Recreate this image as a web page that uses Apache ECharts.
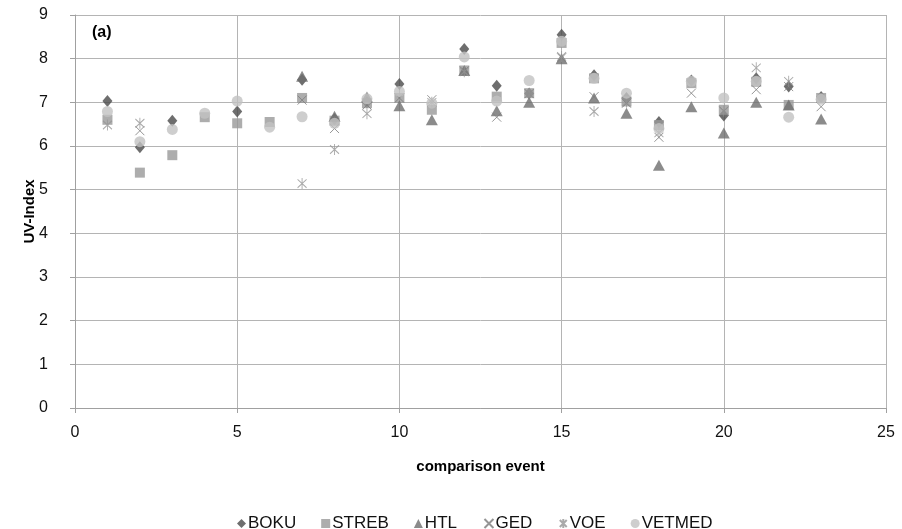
<!DOCTYPE html>
<html>
<head>
<meta charset="utf-8">
<script src="https://cdn.jsdelivr.net/npm/echarts@6/dist/echarts.min.js"></script>
<style>html,body{margin:0;padding:0;background:#fff}#c{width:902px;height:529px}</style>
</head>
<body>
<div id="c"></div>
<script>
const events = [1,2,3,4,5,6,7,8,9,10,11,12,13,14,15,16,17,18,19,20,21,22,23];
const BOKU   = [7.03,5.97,6.58,null,6.79,null,7.52,6.62,7.00,7.42,null,8.22,7.38,7.20,8.55,7.62,7.10,6.55,7.50,6.70,7.55,7.36,7.12];
const STREB  = [6.60,5.39,5.79,6.66,6.52,6.55,7.10,6.58,6.98,7.10,6.83,7.73,7.13,7.21,8.36,7.55,7.02,6.48,7.44,6.83,7.47,6.94,7.10];
const HTL    = [null,null,null,null,null,null,7.60,6.68,7.12,6.92,6.60,7.73,6.81,7.00,8.00,7.10,6.75,5.56,6.90,6.30,7.00,6.94,6.62];
const GED    = [null,6.35,null,null,null,null,7.05,6.40,6.94,7.10,7.06,7.72,6.66,7.20,8.02,7.13,6.98,6.20,7.21,6.80,7.29,7.36,6.90];
const VOE    = [6.48,6.52,null,null,null,null,5.14,5.92,6.74,null,7.00,7.70,null,7.20,8.05,6.79,7.00,6.30,null,6.80,7.79,7.48,null];
const VETMED = [6.79,6.10,6.38,6.75,7.03,6.43,6.67,6.52,7.08,7.25,6.98,8.04,7.03,7.50,8.40,7.55,7.21,6.40,7.48,7.10,7.48,6.66,7.07];
const xTicks = [0,5,10,15,20,25];
const yTicks = [0,1,2,3,4,5,6,7,8,9];

function pts(arr){ return events.map((x,i)=> arr[i]==null ? null : [x, arr[i]]).filter(p=>p); }

const crossPath = 'path://M0,0L10,10M10,0L0,10';
const starPath = 'path://M0,0L10,10M10,0L0,10M5,-1.5L5,11.5';
const font = '"Liberation Sans", Arial, sans-serif';

const series = [
  {name:'BOKU', data:pts(BOKU), symbol:'diamond', symbolSize:[10,12], itemStyle:{color:'#4a4a4a'}},
  {name:'STREB', data:pts(STREB), symbol:'rect', symbolSize:10, itemStyle:{color:'#989898'}},
  {name:'HTL', data:pts(HTL), symbol:'triangle', symbolSize:[12,11], itemStyle:{color:'#6e6e6e'}},
  {name:'GED', data:pts(GED), symbol:crossPath, symbolSize:9, itemStyle:{color:'none', borderColor:'#7a7a7a', borderWidth:1}},
  {name:'VOE', data:pts(VOE), symbol:starPath, symbolSize:[9,11], itemStyle:{color:'none', borderColor:'#959595', borderWidth:1}},
  {name:'VETMED', data:pts(VETMED), symbol:'circle', symbolSize:11, itemStyle:{color:'#c2c2c2'}}
].map(s=>Object.assign({type:'scatter', emphasis:{disabled:true}, animation:false}, s));

const chart = echarts.init(document.getElementById('c'), null, {renderer:'canvas'});
chart.setOption({
  animation:false,
  backgroundColor:'#fff',
  grid:{left:75, right:16, top:15, bottom:121, containLabel:false},
  xAxis:{
    type:'value', min:xTicks[0], max:xTicks[xTicks.length-1], interval:5,
    name:'comparison event', nameLocation:'middle', nameGap:51,
    nameTextStyle:{fontFamily:font, fontSize:15, fontWeight:'bold', color:'#000'},
    axisLine:{show:true, lineStyle:{color:'#a0a0a0'}},
    axisTick:{show:true, length:5, lineStyle:{color:'#a0a0a0'}},
    axisLabel:{fontFamily:font, fontSize:16, color:'#111', margin:17},
    splitLine:{show:true, lineStyle:{color:'#b4b4b4', width:1}}
  },
  yAxis:{
    type:'value', min:yTicks[0], max:yTicks[yTicks.length-1], interval:1,
    name:'UV-Index', nameLocation:'middle', nameGap:38, nameMoveOverlap:false,
    nameTextStyle:{fontFamily:font, fontSize:15, fontWeight:'bold', color:'#000'},
    axisLine:{show:true, lineStyle:{color:'#a0a0a0'}},
    axisTick:{show:true, length:5, lineStyle:{color:'#a0a0a0'}},
    axisLabel:{fontFamily:font, fontSize:16, color:'#111', margin:27},
    splitLine:{show:true, lineStyle:{color:'#b4b4b4', width:1}}
  },
  legend:{
    top:510, left:232, itemWidth:9, itemHeight:9, itemGap:25,
    textStyle:{fontFamily:font, fontSize:17, color:'#111', padding:[0,0,0,-3]},
    data:['BOKU','STREB','HTL','GED','VOE','VETMED']
  },
  graphic:[{type:'text', left:92, top:25, style:{text:'(a)', font:'bold 16px '+font, fill:'#000'}}],
  series:series
});
</script>
</body>
</html>
